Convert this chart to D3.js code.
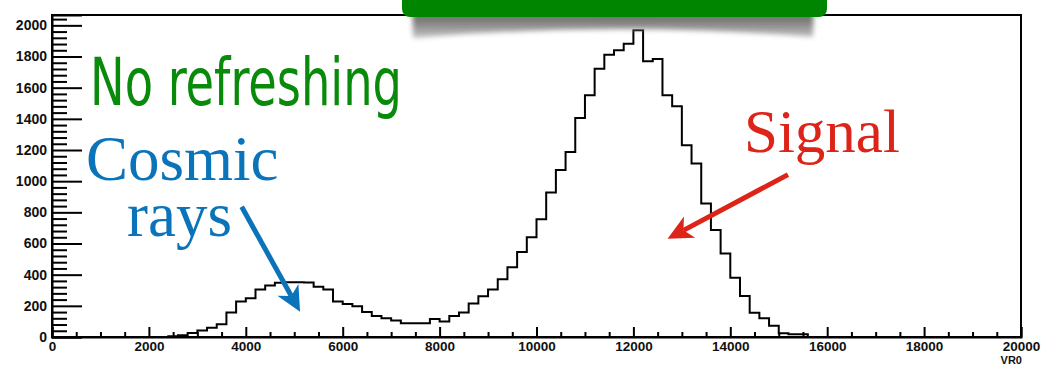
<!DOCTYPE html>
<html>
<head>
<meta charset="utf-8">
<script src="https://cdn.jsdelivr.net/npm/d3@7/dist/d3.min.js"></script>
<style>
  html, body { margin: 0; padding: 0; background: #fff; }
  svg { display: block; }
</style>
</head>
<body>
<svg id="chart" width="1042" height="366"></svg>
<script>
// VR0 spectrum: 200-wide bins starting at 2400, counts per bin
const binWidth = 200;
const binStart = 2400;
const counts = [
  5, 12, 25, 42, 60, 82, 158, 228, 248, 305,
  330, 348, 352, 352, 350, 322, 305, 228, 212, 198,
  160, 135, 120, 106, 88, 88, 88, 116, 100, 135,
  158, 215, 262, 305, 370, 447, 545, 640, 755, 928,
  1071, 1188, 1406, 1551, 1722, 1812, 1840, 1882, 1968, 1769,
  1784, 1551, 1481, 1231, 1113, 857, 686, 536, 380, 263,
  156, 120, 73, 24, 17, 17
];
const xMajorTicks = [0, 2000, 4000, 6000, 8000, 10000, 12000, 14000, 16000, 18000, 20000];
const yMajorTicks = [0, 200, 400, 600, 800, 1000, 1200, 1400, 1600, 1800, 2000];
const xTitle = "VR0";

// annotation arrows, in data coordinates [x, count]
const cosmicArrow = { from: [3915, 836], to: [5120, 162] };
const signalArrow = { from: [15190, 1042], to: [12705, 630] };

const svg = d3.select("#chart");
const frame = { left: 52, right: 1021, top: 15, bottom: 337 };

const yMax = d3.max(counts) * 1.05;
const x = d3.scaleLinear().domain([0, 20000]).range([frame.left, frame.right]);
const y = d3.scaleLinear().domain([0, yMax]).range([frame.bottom, frame.top]);

const bins = counts.map((c, i) => ({ lo: binStart + i * binWidth, hi: binStart + (i + 1) * binWidth, c }));

// frame box
svg.append("rect")
  .attr("x", frame.left).attr("y", frame.top)
  .attr("width", frame.right - frame.left).attr("height", frame.bottom - frame.top)
  .attr("fill", "none").attr("stroke", "#000").attr("stroke-width", 2);

// histogram outline
const pts = [[bins[0].lo, 0]];
bins.forEach(b => { pts.push([b.lo, b.c]); pts.push([b.hi, b.c]); });
pts.push([bins[bins.length - 1].hi, 0]);
svg.append("path")
  .datum(pts)
  .attr("d", d3.line().x(d => x(d[0])).y(d => y(d[1])))
  .attr("fill", "none").attr("stroke", "#000").attr("stroke-width", 2)
  .attr("stroke-linejoin", "miter");

const labelFont = "'Liberation Sans', Arial, sans-serif";

// y axis: majors, minors
const yMinor = d3.range(0, yMax, 40).filter(v => v % 200 !== 0);
const yAx = svg.append("g").attr("transform", `translate(${frame.left},0)`)
  .call(d3.axisLeft(y).tickValues(yMajorTicks).tickSize(-30).tickPadding(5).tickFormat(d3.format("d")));
svg.append("g").attr("transform", `translate(${frame.left},0)`)
  .call(d3.axisLeft(y).tickValues(yMinor).tickSize(-15).tickFormat(""))
  .call(g => g.select(".domain").remove());

// x axis: majors, minors
const xMinor = d3.range(0, 20001, 500).filter(v => v % 2000 !== 0);
const xAx = svg.append("g").attr("transform", `translate(0,${frame.bottom})`)
  .call(d3.axisBottom(x).tickValues(xMajorTicks).tickSize(-10).tickPadding(4).tickFormat(d3.format("d")));
svg.append("g").attr("transform", `translate(0,${frame.bottom})`)
  .call(d3.axisBottom(x).tickValues(xMinor).tickSize(-5).tickFormat(""))
  .call(g => g.select(".domain").remove());

svg.selectAll(".tick line").attr("stroke", "#000").attr("stroke-width", 2);
svg.selectAll(".domain").attr("stroke", "#000").attr("stroke-width", 2);
yAx.selectAll("text")
  .attr("font-family", labelFont).attr("font-weight", "bold")
  .attr("font-size", 14).attr("fill", "#111");
xAx.selectAll("text")
  .attr("font-family", labelFont).attr("font-weight", "bold")
  .attr("font-size", 13.5).attr("fill", "#111");

svg.append("text")
  .attr("x", frame.right + 1).attr("y", 364)
  .attr("text-anchor", "end")
  .attr("font-family", labelFont).attr("font-weight", "bold").attr("font-size", 11)
  .attr("fill", "#111")
  .text(xTitle);

// header banner with soft shadow
const defs = svg.append("defs");
defs.append("filter").attr("id", "soft").attr("x", "-10%").attr("y", "-50%").attr("width", "120%").attr("height", "200%")
  .append("feGaussianBlur").attr("stdDeviation", 2.5);
const grad = defs.append("linearGradient").attr("id", "shade").attr("x1", 0).attr("y1", 0).attr("x2", 0).attr("y2", 1);
grad.append("stop").attr("offset", "0%").attr("stop-color", "#3a3a3a");
grad.append("stop").attr("offset", "55%").attr("stop-color", "#666");
grad.append("stop").attr("offset", "100%").attr("stop-color", "#bbb");
svg.append("path")
  .attr("d", "M412,0 L814,0 L813,37 Q612,21 413,38 Z")
  .attr("fill", "url(#shade)").attr("opacity", 0.85)
  .attr("filter", "url(#soft)");
svg.append("rect")
  .attr("x", 402).attr("y", -12).attr("width", 425).attr("height", 29)
  .attr("rx", 8).attr("fill", "#008500");

// annotations
function arrow(a, color) {
  const [x0, y0] = [x(a.from[0]), y(a.from[1])];
  const [x1, y1] = [x(a.to[0]), y(a.to[1])];
  const len = Math.hypot(x1 - x0, y1 - y0);
  const ux = (x1 - x0) / len, uy = (y1 - y0) / len;
  const px = -uy, py = ux;
  const headLen = 25, half = 12, notch = 7;
  const bx = x1 - ux * headLen, by = y1 - uy * headLen;
  svg.append("line")
    .attr("x1", x0).attr("y1", y0)
    .attr("x2", x1 - ux * (headLen - notch)).attr("y2", y1 - uy * (headLen - notch))
    .attr("stroke", color).attr("stroke-width", 5);
  svg.append("path")
    .attr("d", `M${x1},${y1} L${bx + px * half},${by + py * half} L${x1 - ux * (headLen - notch)},${y1 - uy * (headLen - notch)} L${bx - px * half},${by - py * half} Z`)
    .attr("fill", color);
}

svg.append("text")
  .attr("x", 90).attr("y", 105)
  .attr("font-family", "'Liberation Sans Narrow', 'DejaVu Sans Condensed', 'Open Sans', sans-serif")
  .attr("font-size", 65).attr("fill", "#0a8a0a")
  .attr("textLength", 312).attr("lengthAdjust", "spacingAndGlyphs")
  .text("No refreshing");

const serif = "'Liberation Serif', 'Times New Roman', serif";
svg.append("text").attr("x", 86).attr("y", 180)
  .attr("font-family", serif).attr("font-size", 63).attr("fill", "#0b73ba")
  .text("Cosmic");
svg.append("text").attr("x", 127).attr("y", 236)
  .attr("font-family", serif).attr("font-size", 63).attr("fill", "#0b73ba")
  .text("rays");
arrow(cosmicArrow, "#0b73ba");

svg.append("text").attr("x", 744).attr("y", 152)
  .attr("font-family", serif).attr("font-size", 61).attr("fill", "#dc2419")
  .text("Signal");
arrow(signalArrow, "#dc2419");
</script>
</body>
</html>
